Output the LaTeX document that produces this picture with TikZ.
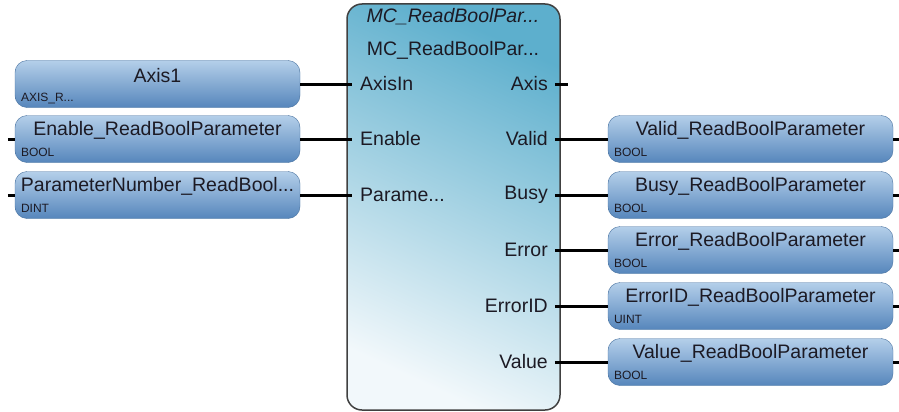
\documentclass[tikz,border=0pt]{standalone}
\usepackage{fontspec}
\setmainfont{Liberation Sans}
\usetikzlibrary{positioning,calc}
\definecolor{fbtop}{RGB}{93,175,205}
\definecolor{fbbot}{RGB}{242,248,251}
\definecolor{fbline}{RGB}{64,64,64}
\definecolor{vartop}{RGB}{180,207,234}
\definecolor{varbot}{RGB}{86,134,187}
\definecolor{txt}{RGB}{28,26,36}
\newcommand{\tdots}{...}

\begin{document}
\begin{tikzpicture}[x=1pt, y=-1pt,
    fb/.style={rectangle, rounded corners=15pt, draw=fbline, line width=1.5pt, top color=fbtop, bottom color=fbbot, shading angle=-25, minimum width=213pt, minimum height=406pt, inner sep=0pt},
    var/.style={rectangle, rounded corners=12pt, draw=varbot!85!black, line width=0.4pt, top color=vartop, bottom color=varbot, minimum width=285pt, minimum height=47pt, inner sep=0pt},
    vname/.style={font=\fontsize{19.5}{19.5}\selectfont, text=txt, inner sep=0pt},
    vtype/.style={font=\fontsize{12}{12}\selectfont, text=txt, inner sep=0pt},
    pin/.style={font=\fontsize{19.5}{19.5}\selectfont, text=txt, inner sep=0pt},
    wire/.style={line width=3pt, black}
]
\useasboundingbox (0,0) rectangle (899,412);

% function block
\node[fb] (FB) at (453.5, 207) {};
\node[pin, font=\fontsize{19.5}{19.5}\selectfont\itshape] (TitleA) at (453, 17) {MC\_ReadBoolPar\tdots};
\node[pin] (TitleB) at (453, 50) {MC\_ReadBoolPar\tdots};

% inputs
\foreach \i/\y/\name/\ty/\lab in {a/84/Axis1/AXIS\_R\tdots/AxisIn, b/139/Enable\_ReadBoolParameter/BOOL/Enable, c/195/ParameterNumber\_ReadBool\tdots/DINT/Parame\tdots} {
    \node[var] (In\i) at (157.5, \y) {};
    \node[vname] (NameIn\i) at ([yshift=-15pt]In\i.north) {\name};
    \node[vtype, anchor=base west] (TypeIn\i) at ([xshift=6pt, yshift=6pt]In\i.south west) {\ty};
    \node[pin, anchor=west] (PinIn\i) at (360, \y) {\lab};
    \coordinate (pIn\i) at ([xshift=6pt]FB.west |- PinIn\i.west);
}

% outputs
\node[pin, anchor=east] (PinOuta) at (548, 84) {Axis};
\foreach \i/\y/\name/\ty/\lab in {b/139/Valid\_ReadBoolParameter/BOOL/Valid, c/195/Busy\_ReadBoolParameter/BOOL/Busy, d/250/Error\_ReadBoolParameter/BOOL/Error, e/306/ErrorID\_ReadBoolParameter/UINT/ErrorID, f/362/Value\_ReadBoolParameter/BOOL/Value} {
    \node[var] (Out\i) at (750.5, \y) {};
    \node[vname] (NameOut\i) at ([yshift=-15pt]Out\i.north) {\name};
    \node[vtype, anchor=base west] (TypeOut\i) at ([xshift=6pt, yshift=6pt]Out\i.south west) {\ty};
    \node[pin, anchor=east] (PinOut\i) at (548, \y) {\lab};
    \coordinate (pOut\i) at ([xshift=-6pt]FB.east |- PinOut\i.east);
    \coordinate (sOut\i) at ([xshift=6pt]Out\i.east);
}
\coordinate (pOuta) at ([xshift=-6pt]FB.east |- PinOuta.east);
\coordinate (sOuta) at ([xshift=7pt]FB.east |- PinOuta.east);

% connections
\foreach \i in {a, b, c}
    \draw[wire] (In\i.east) -- (pIn\i);
\foreach \i in {b, c, d, e, f} {
    \draw[wire] (pOut\i) -- (Out\i.west);
    \draw[wire] (Out\i.east) -- (sOut\i);
}
\draw[wire] (pOuta) -- (sOuta);

% open input ends
\foreach \i in {b, c} {
    \coordinate (sIn\i) at ([xshift=-7pt]In\i.west);
    \draw[wire] (sIn\i) -- (In\i.west);
}
\end{tikzpicture}
\end{document}
